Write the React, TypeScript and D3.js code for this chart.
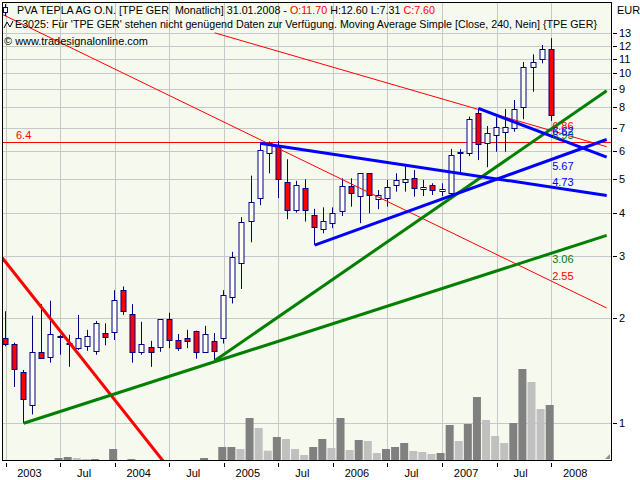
import * as d3 from 'd3';

// monthly candles, Jan 2003 (index 0) .. Jan 2008 (index 60)
const opens = [
  1.75, 1.69, 1.4, 1.13, 1.6, 1.55, 1.77, 1.7, 1.64, 1.66, 1.61, 1.81,
  1.82, 2.4, 2.05, 1.6, 1.65, 1.65, 1.98, 1.73, 1.75, 1.84, 1.6, 1.72,
  1.75, 2.29, 2.88, 3.78, 4.39, 5.91, 6.24, 4.9, 4.06, 4.69, 3.93, 3.59,
  3.73, 4.03, 4.76, 4.46, 5.18, 4.37, 4.41, 4.8, 4.89, 5.03, 4.66, 4.79,
  4.62, 4.55, 5.91, 5.91, 7.69, 6.31, 6.66, 6.78, 6.96, 8.0, 10.4, 10.96,
  11.7
];
const highs = [
  2.09, 1.7, 1.42, 2.03, 2.19, 2.24, 1.79, 1.79, 2.04, 1.85, 1.96, 1.93,
  2.4, 2.46, 2.19, 1.95, 1.72, 1.98, 2.07, 1.8, 1.85, 1.84, 1.9, 1.81,
  2.4, 3.09, 3.88, 5.1, 6.31, 6.38, 6.41, 5.68, 4.93, 4.98, 4.1, 4.14,
  4.14, 5.01, 5.01, 5.18, 5.18, 4.64, 4.96, 5.18, 5.43, 5.29, 4.96, 4.85,
  4.85, 6.08, 6.07, 7.52, 7.94, 7.07, 7.49, 7.91, 8.39, 10.77, 11.33, 12.05,
  12.6
];
const lows = [
  1.66, 1.27, 1.0, 1.06, 1.53, 1.49, 1.57, 1.45, 1.62, 1.61, 1.57, 1.67,
  1.73, 2.04, 1.49, 1.57, 1.45, 1.6, 1.64, 1.61, 1.64, 1.53, 1.6, 1.51,
  1.69, 2.2, 2.42, 3.29, 4.2, 5.18, 4.4, 3.83, 4.0, 3.77, 3.23, 3.49,
  3.61, 3.91, 4.16, 3.73, 3.98, 4.09, 4.16, 4.59, 4.59, 4.44, 4.46, 4.49,
  4.46, 4.46, 5.12, 5.8, 5.65, 5.39, 5.97, 5.97, 6.81, 7.39, 8.86, 10.68,
  7.31
];
const closes = [
  1.69, 1.43, 1.17, 1.6, 1.54, 1.8, 1.78, 1.69, 1.75, 1.78, 1.93, 1.76,
  2.25, 2.09, 1.6, 1.69, 1.6, 1.98, 1.73, 1.64, 1.72, 1.6, 1.8, 1.61,
  2.32, 2.98, 3.75, 4.29, 6.04, 6.31, 4.98, 4.06, 4.79, 4.06, 3.63, 3.78,
  3.98, 4.76, 4.54, 5.18, 4.49, 4.48, 4.74, 4.96, 4.98, 4.69, 4.74, 4.63,
  4.68, 5.84, 5.96, 7.39, 6.28, 6.77, 7.01, 7.01, 7.89, 10.4, 10.75, 11.71,
  7.6
];
// volume, thousand shares
const volumes = [
  0, 0, 0, 0, 0, 0, 2, 3, 2, 1, 1, 0,
  11, 0, 1, 0, 0, 0, 0, 0, 0, 0, 2, 0,
  13, 13, 11, 42, 32, 9.3, 23, 21, 11, 5, 13, 21,
  12, 42, 10, 20, 19, 7, 11, 13, 17, 9, 8, 6,
  7, 35, 19, 36, 63, 40, 24, 17, 37, 91, 78, 51,
  55
];

const xTickMonths = [0, 6, 12, 18, 24, 30, 36, 42, 48, 54, 60];
const xTickLabels = ['2003', 'Jul', '2004', 'Jul', '2005', 'Jul', '2006', 'Jul', '2007', 'Jul', '2008'];
const priceTicks = [1, 2, 3, 4, 5, 6, 7, 8, 9, 10, 11, 12, 13];

// drawn trend lines: first anchor [month, price], second anchor [month, price]
const trendFrom: [number, number][] = [
  [50, 3.41],
  [47.8, 8.48],
  [-0.4, 2.98],
  [2, 1.0],
  [23, 1.51],
  [28, 6.31],
  [34, 3.23],
  [52, 7.94]
];
const trendTo: [number, number][] = [
  [60, 2.55],
  [60, 6.86],
  [14.63, 0.957],
  [60, 3.06],
  [60, 6.93],
  [60, 4.73],
  [60, 5.67],
  [60, 6.62]
];
const trendStartMonth = [-2, 23, -2, 2, 23, 28, 34, 52];
const trendLabelled = [true, true, false, true, true, true, true, true];
const horizontalLevel = 6.37;
const horizontalLabel = '6.4';

const trendStyle = [
  { color: '#ff0000', width: 1 },
  { color: '#ff0000', width: 1 },
  { color: '#ff0000', width: 3 },
  { color: '#008000', width: 3 },
  { color: '#008000', width: 3 },
  { color: '#0000ff', width: 3 },
  { color: '#0000ff', width: 3 },
  { color: '#0000ff', width: 3 }
];

const W = 640;
const H = 480;
const left = 3;
const right = 611;
const top = 3;
const bottom = 460;
const lastMonth = 66.1;
const font = "'Liberation Sans', Arial, sans-serif";

export default function App(): JSX.Element {
  const x = d3.scaleLinear().domain([0, 60]).range([5.5, 551.2]);
  const y = d3.scaleLog().domain([1, 10]).range([423.3, 73.3]);
  const yVol = d3.scaleLinear().domain([0, 100]).range([bottom, bottom - 100]);

  // trend lines are straight on the log chart
  const lineAt = (k: number, m: number) => {
    const [m1, v1] = trendFrom[k];
    const [m2, v2] = trendTo[k];
    const lv = Math.log10(v1) + ((m - m1) * (Math.log10(v2) - Math.log10(v1))) / (m2 - m1);
    return Math.pow(10, lv);
  };

  const candles = opens.map((o, i) => {
    const c = closes[i];
    const cx = Math.floor(x(i)) + 0.5;
    const up = c >= o;
    const yTop = Math.round(y(Math.max(o, c))) + 0.5;
    const yBot = Math.max(Math.round(y(Math.min(o, c))) + 0.5, yTop + 1);
    return (
      <g key={i}>
        <line x1={cx} x2={cx} y1={y(highs[i])} y2={y(lows[i])} stroke="#000080" strokeWidth={1} />
        <rect
          x={cx - 2.5}
          y={yTop}
          width={5}
          height={yBot - yTop}
          fill={up ? '#fffff4' : '#ff0000'}
          stroke="#000080"
          strokeWidth={1}
        />
      </g>
    );
  });

  const volBars = volumes.map((v, i) => {
    if (v <= 0) return null;
    const prev = i > 0 ? volumes[i - 1] : 0;
    return (
      <rect
        key={i}
        x={x(i) - 5.5}
        y={yVol(v)}
        width={8}
        height={bottom - yVol(v)}
        fill={v >= prev ? '#808080' : '#c0c0c0'}
      />
    );
  });

  const trends = trendFrom.map((_, k) => {
    const m0 = trendStartMonth[k];
    const pts: [number, number][] = [
      [x(m0), y(lineAt(k, m0))],
      [x(lastMonth), y(lineAt(k, lastMonth))]
    ];
    return (
      <path
        key={k}
        d={d3.line()(pts) as string}
        stroke={trendStyle[k].color}
        strokeWidth={trendStyle[k].width}
        fill="none"
      />
    );
  });

  const trendLabels = trendFrom.map((_, k) => {
    if (!trendLabelled[k]) return null;
    const v = lineAt(k, 60);
    const rising = lineAt(k, 61) > v;
    const py = y(v);
    return (
      <text
        key={k}
        x={x(60) + 1}
        y={rising ? py + 10 : py - 1}
        fill={trendStyle[k].color}
        fontSize={11}
        fontFamily={font}
      >
        {v.toFixed(2)}
      </text>
    );
  });

  return (
    <svg
      xmlns="http://www.w3.org/2000/svg"
      width={W}
      height={H}
      style={{ position: 'absolute', left: 0, top: 0, background: '#ffffff' }}
    >
      <defs>
        <clipPath id="plotClip">
          <rect x={left} y={top} width={right - left} height={bottom - top} />
        </clipPath>
      </defs>
      <rect x={left} y={top} width={right - left} height={bottom - top} fill="#f6f9ee" />

      {/* grid */}
      {priceTicks.map((t) => (
        <line
          key={'h' + t}
          x1={left}
          x2={right}
          y1={Math.round(y(t)) + 0.5}
          y2={Math.round(y(t)) + 0.5}
          stroke="#c8c8c8"
        />
      ))}
      {xTickMonths.map((m) => (
        <line
          key={'v' + m}
          x1={Math.round(x(m)) + 0.5}
          x2={Math.round(x(m)) + 0.5}
          y1={top}
          y2={bottom}
          stroke="#c8c8c8"
        />
      ))}

      <g clipPath="url(#plotClip)">
        {volBars}
        <line
          x1={left}
          x2={right}
          y1={Math.round(y(horizontalLevel)) + 0.5}
          y2={Math.round(y(horizontalLevel)) + 0.5}
          stroke="#ff0000"
        />
        {candles}
        {trends}
      </g>

      <text x={16} y={y(horizontalLevel) - 3} fill="#ff0000" fontSize={11} fontFamily={font}>
        {horizontalLabel}
      </text>
      {trendLabels}

      {/* header */}
      <line x1={5.5} x2={5.5} y1={4} y2={16} stroke="#000080" />
      <rect x={3.5} y={7.5} width={4} height={5} fill="#ffffff" stroke="#000080" />
      <text
        x={17}
        y={14}
        fontSize={11}
        fontFamily={font}
        textLength={418}
        lengthAdjust="spacingAndGlyphs"
        style={{ whiteSpace: 'pre' }}
      >
        <tspan>{'PVA TEPLA AG O.N. [TPE GER\u00a0 Monatlich] 31.01.2008 - '}</tspan>
        <tspan fill="#ff0000">O:11.70</tspan>
        <tspan>{' H:12.60 L:7.31 '}</tspan>
        <tspan fill="#ff0000">C:7.60</tspan>
      </text>
      <path d="M4,28 L7,22 L10,27 L13,21" fill="none" stroke="#000000" strokeWidth={1} />
      <text x={15} y={28} fontSize={11} fontFamily={font} textLength={582} lengthAdjust="spacingAndGlyphs">
        E3025: Für 'TPE GER' stehen nicht genügend Daten zur Verfügung. Moving Average Simple [Close, 240, Nein] {'{TPE GER}'}
      </text>
      <text x={4} y={45} fontSize={11} fontFamily={font} textLength={144} lengthAdjust="spacingAndGlyphs">
        © www.tradesignalonline.com
      </text>

      {/* frame */}
      <rect
        x={left - 0.5}
        y={top - 0.5}
        width={right - left + 1}
        height={bottom - top + 1}
        fill="none"
        stroke="#000000"
      />
      <path d={`M${right - 6},${bottom - 1} L${right - 1},${bottom - 6} L${right - 1},${bottom - 1} Z`} fill="#909090" />

      {/* right price axis */}
      <text x={617} y={14} fontSize={11} fontFamily={font}>
        EUR
      </text>
      {priceTicks.map((t) => (
        <g key={'t' + t}>
          <line x1={613} x2={617} y1={Math.round(y(t)) + 0.5} y2={Math.round(y(t)) + 0.5} stroke="#000000" />
          <text x={619} y={y(t) + 4} fontSize={11} fontFamily={font}>
            {t}
          </text>
        </g>
      ))}

      {/* time axis */}
      {xTickMonths.map((m, i) => (
        <g key={'x' + m}>
          <line
            x1={Math.round(x(m)) + 0.5}
            x2={Math.round(x(m)) + 0.5}
            y1={463}
            y2={467}
            stroke="#000000"
          />
          <text x={x(m) + 24} y={477} textAnchor="middle" fontSize={11} fontFamily={font}>
            {xTickLabels[i]}
          </text>
        </g>
      ))}
    </svg>
  );
}
